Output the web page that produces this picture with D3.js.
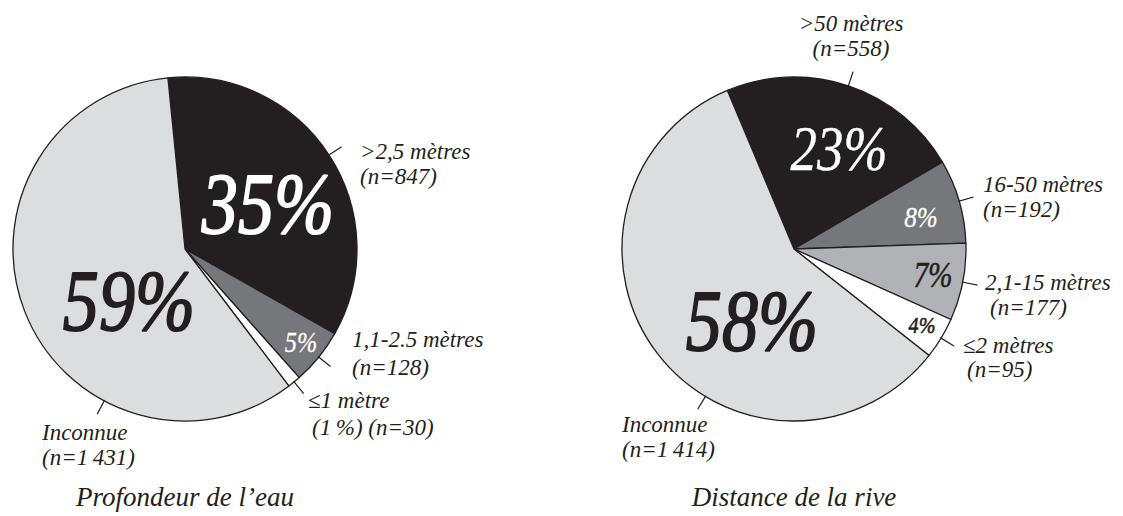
<!DOCTYPE html>
<html>
<head>
<meta charset="utf-8">
<script src="https://cdn.jsdelivr.net/npm/d3@7"></script>
<style>
  html, body { margin: 0; padding: 0; background: #fff; }
  svg { display: block; }
</style>
</head>
<body>
<svg id="chart" width="1123" height="516" font-family="Liberation Serif" font-style="italic"></svg>
<script>
// Depth of water at the sites
const depthCategories = [">2,5 mètres", "1,1-2.5 mètres", "≤1 mètre", "Inconnue"];
const depthCounts = [847, 128, 30, 1431];
const depthTitle = "Profondeur de l\u2019eau";

// Distance from the shore
const shoreCategories = [">50 mètres", "16-50 mètres", "2,1-15 mètres", "≤2 mètres", "Inconnue"];
const shoreCounts = [558, 192, 177, 95, 1414];
const shoreTitle = "Distance de la rive";

const svg = d3.select("#chart");
const fmtN = d3.formatLocale({ decimal: ",", thousands: "\u2009", grouping: [3], currency: ["", ""] }).format(",d");
const deg = Math.PI / 180;
const R = 172;
const INK = "#231f20";

function drawPie(cfg) {
  const total = d3.sum(cfg.counts);
  const data = cfg.categories.map((c, i) => ({ name: c, n: cfg.counts[i], i }));
  const pie = d3.pie().sort(null).value(d => d.n)
    .startAngle(cfg.start * deg).endAngle(cfg.start * deg + 2 * Math.PI);
  const arcs = pie(data);
  const arc = d3.arc().innerRadius(0).outerRadius(R);
  const g = svg.append("g").attr("transform", `translate(${cfg.cx},${cfg.cy})`);

  g.selectAll("path.slice").data(arcs).join("path")
    .attr("class", "slice")
    .attr("d", arc)
    .attr("fill", d => cfg.fills[d.index])
    .attr("stroke", INK)
    .attr("stroke-width", 1.3)
    .attr("stroke-linejoin", "round");

  // leader ticks from the rim towards each label
  arcs.forEach(d => {
    const lay = cfg.labels[d.index];
    const a = lay.leader != null ? lay.leader * deg : (d.startAngle + d.endAngle) / 2;
    const r0 = R - 1, r1 = R + 15;
    g.append("line")
      .attr("x1", Math.sin(a) * r0).attr("y1", -Math.cos(a) * r0)
      .attr("x2", Math.sin(a) * r1).attr("y2", -Math.cos(a) * r1)
      .attr("stroke", INK).attr("stroke-width", 1.2);
  });

  // percentage inside each slice; a thin outline in the same colour gives the heavier weight
  arcs.forEach(d => {
    const lay = cfg.pct[d.index];
    if (!lay) return;
    const pct = Math.round(d.data.n / total * 100);
    g.append("text")
      .attr("transform", `translate(${lay.dx},${lay.dy}) scale(0.84,1)`)
      .attr("text-anchor", "middle")
      .attr("font-size", lay.size)
      .attr("fill", lay.color)
      .attr("stroke", lay.color)
      .attr("stroke-width", lay.heavy || 0)
      .attr("stroke-linejoin", "round")
      .text(pct + "%");
  });

  // category labels (name, then count)
  arcs.forEach(d => {
    const lay = cfg.labels[d.index];
    const pct = Math.round(d.data.n / total * 100);
    const lines = [d.data.name, (lay.showPct ? `(${pct}\u2009%) ` : "") + `(n=${fmtN(d.data.n)})`];
    const t = g.append("text")
      .attr("font-size", 23)
      .attr("fill", INK)
      .attr("text-anchor", lay.anchor || "start");
    lines.forEach((ln, k) => {
      t.append("tspan")
        .attr("x", lay.x + (k ? lay.x2off || 0 : 0))
        .attr("y", lay.y + k * (lay.lh || 25))
        .text(ln);
    });
  });

  g.append("text")
    .attr("x", 0).attr("y", 257)
    .attr("text-anchor", "middle")
    .attr("font-size", 27)
    .attr("fill", INK)
    .text(cfg.title);
}

drawPie({
  categories: depthCategories, counts: depthCounts, title: depthTitle,
  cx: 185, cy: 249, start: -5.7,
  fills: [INK, "#76777a", "#ffffff", "#dcdddf"],
  pct: [
    { dx: 83, dy: -16, size: 86, color: "#ffffff", heavy: 1.8 },
    { dx: 116, dy: 103, size: 29, color: "#ffffff", heavy: 0.3 },
    null,
    { dx: -56, dy: 81, size: 86, color: INK, heavy: 1.8 }
  ],
  labels: [
    { x: 175, y: -90 },
    { x: 167, y: 98, lh: 28 },
    { x: 123, y: 159, showPct: true, x2off: 4, lh: 27 },
    { x: -143, y: 191, leader: 208 }
  ]
});

drawPie({
  categories: shoreCategories, counts: shoreCounts, title: shoreTitle,
  cx: 794, cy: 249, start: -22.8,
  fills: [INK, "#76777a", "#b1b2b5", "#ffffff", "#dcdddf"],
  pct: [
    { dx: 45, dy: -79, size: 63, color: "#ffffff", heavy: 0.4 },
    { dx: 127, dy: -22, size: 30, color: "#ffffff", heavy: 0.3 },
    { dx: 139, dy: 38, size: 35, color: INK, heavy: 0.5 },
    { dx: 128, dy: 84, size: 24, color: INK, heavy: 0.6 },
    { dx: -42, dy: 101, size: 86, color: INK, heavy: 1.8 }
  ],
  labels: [
    { x: 57, y: -218, anchor: "middle" },
    { x: 189, y: -57 },
    { x: 191, y: 41, x2off: 5 },
    { x: 169, y: 104, x2off: 4, lh: 24 },
    { x: -172, y: 183, leader: 211 }
  ]
});
</script>
</body>
</html>
